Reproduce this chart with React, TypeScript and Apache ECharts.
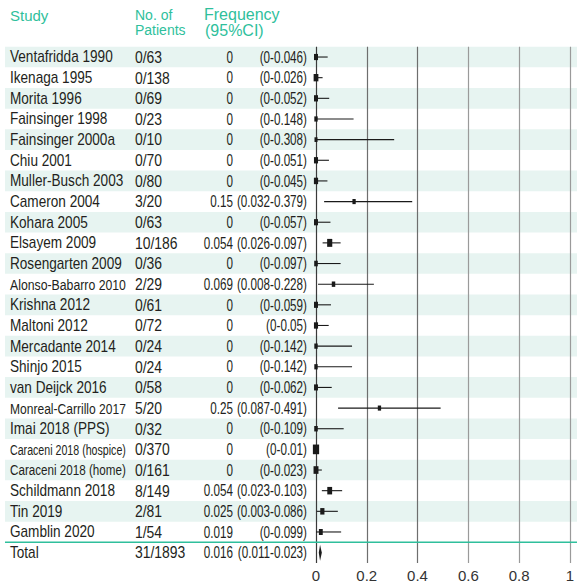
import { useEffect, useRef } from 'react';
import * as echarts from 'echarts';

const studies = [
  'Ventafridda 1990', 'Ikenaga 1995', 'Morita 1996', 'Fainsinger 1998', 'Fainsinger 2000a',
  'Chiu 2001', 'Muller-Busch 2003', 'Cameron 2004', 'Kohara 2005', 'Elsayem 2009',
  'Rosengarten 2009', 'Alonso-Babarro 2010', 'Krishna 2012', 'Maltoni 2012', 'Mercadante 2014',
  'Shinjo 2015', 'van Deijck 2016', 'Monreal-Carrillo 2017', 'Imai 2018 (PPS)',
  'Caraceni 2018 (hospice)', 'Caraceni 2018 (home)', 'Schildmann 2018', 'Tin 2019', 'Gamblin 2020',
];
const events = [0, 0, 0, 0, 0, 0, 0, 3, 0, 10, 0, 2, 0, 0, 0, 0, 0, 5, 0, 0, 0, 8, 2, 1];
const totals = [63, 138, 69, 23, 10, 70, 80, 20, 63, 186, 36, 29, 61, 72, 24, 24, 58, 20, 32, 370, 161, 149, 81, 54];
const freq = [0, 0, 0, 0, 0, 0, 0, 0.15, 0, 0.054, 0, 0.069, 0, 0, 0, 0, 0, 0.25, 0, 0, 0, 0.054, 0.025, 0.019];
const ciLow = [0, 0, 0, 0, 0, 0, 0, 0.032, 0, 0.026, 0, 0.008, 0, 0, 0, 0, 0, 0.087, 0, 0, 0, 0.023, 0.003, 0];
const ciHigh = [0.046, 0.026, 0.052, 0.148, 0.308, 0.051, 0.045, 0.379, 0.057, 0.097, 0.097, 0.228, 0.059, 0.05, 0.142, 0.142, 0.062, 0.491, 0.109, 0.01, 0.023, 0.103, 0.086, 0.099];

const totalLabel = 'Total';
const totalEvents = 31;
const totalN = 1893;
const totalFreq = 0.016;
const totalLow = 0.011;
const totalHigh = 0.023;

const xTicks = [0, 0.2, 0.4, 0.6, 0.8, 1];
const compactStudies = ['Alonso-Babarro 2010', 'Monreal-Carrillo 2017', 'Caraceni 2018 (hospice)', 'Caraceni 2018 (home)'];

const TEAL = '#2fbf9c';
const STRIPE = '#e7f4f1';
const INK = '#231f20';
const SANS = '"Liberation Sans", Arial, sans-serif';

const nRows = studies.length + 1;
const fmt = (v: number) => String(v);

let measureCtx: CanvasRenderingContext2D | null = null;
const measure = (text: string, size: number) => {
  if (!measureCtx) measureCtx = document.createElement('canvas').getContext('2d');
  if (!measureCtx) return text.length * size * 0.5;
  measureCtx.font = `${size}px ${SANS}`;
  return measureCtx.measureText(text).width;
};

export default function App() {
  const ref = useRef<HTMLDivElement>(null);
  useEffect(() => {
    if (!ref.current) return;
    const chart = echarts.init(ref.current, undefined, { renderer: 'svg' });

    const rowData = Array.from({ length: nRows }, (_, i) => [0, i]);

    const stripeRender = (params: any, api: any) => {
      const i = api.value(1);
      if (i % 2 !== 0 || i >= studies.length) return { type: 'group', children: [] };
      const top = api.coord([0, i])[1];
      const bot = api.coord([0, i + 1])[1];
      return {
        type: 'rect',
        shape: { x: 5, y: top, width: 572, height: bot - top },
        style: { fill: STRIPE },
      };
    };

    const txt = (x: number, y: number, text: string, align: string, size: number, sx: number) => ({
      type: 'text',
      x,
      y,
      scaleX: sx,
      style: { text, align, verticalAlign: 'middle', fill: INK, fontFamily: SANS, fontSize: size },
    });

    const textRender = (params: any, api: any) => {
      const i = api.value(1);
      const cy = api.coord([0, i + 0.5])[1];
      const isTotal = i >= studies.length;
      const name = isTotal ? totalLabel : studies[i];
      const pat = isTotal ? `${totalEvents}/${totalN}` : `${events[i]}/${totals[i]}`;
      const f = isTotal ? totalFreq : freq[i];
      const lo = isTotal ? totalLow : ciLow[i];
      const hi = isTotal ? totalHigh : ciHigh[i];
      const compact = compactStudies.includes(name);
      const nameSize = compact ? 15.5 : 16;
      const nameScale = compact ? Math.min(0.8, 116 / measure(name, nameSize)) : 0.85;
      return {
        type: 'group',
        children: [
          txt(10, cy, name, 'left', nameSize, nameScale),
          txt(135, cy, pat, 'left', 16, 0.87),
          txt(233, cy, fmt(f), 'right', 16, 0.73),
          txt(307, cy, `(${fmt(lo)}-${fmt(hi)})`, 'right', 16, 0.73),
        ],
      };
    };

    const forestRender = (params: any, api: any) => {
      const i = api.value(1);
      const yc = i + 0.5;
      const cy = api.coord([0, yc])[1];
      if (i >= studies.length) {
        const top = api.coord([0, i])[1];
        const pl = api.coord([totalLow, yc]);
        const pc = api.coord([totalFreq, yc]);
        const ph = api.coord([totalHigh, yc]);
        return {
          type: 'group',
          children: [
            { type: 'line', shape: { x1: 5, y1: top, x2: 577, y2: top }, style: { stroke: TEAL, lineWidth: 1.5 } },
            {
              type: 'polygon',
              shape: { points: [[pl[0], cy], [pc[0], cy - 8], [ph[0], cy], [pc[0], cy + 8]] },
              style: { fill: '#1a1a1a' },
            },
          ],
        };
      }
      const p1 = api.coord([ciLow[i], yc]);
      const p2 = api.coord([ciHigh[i], yc]);
      const pc = api.coord([freq[i], yc]);
      const w = 2.4 + Math.sqrt(totals[i]) * 0.2;
      const h = w * 1.55;
      return {
        type: 'group',
        children: [
          { type: 'line', shape: { x1: p1[0], y1: cy, x2: p2[0], y2: cy }, style: { stroke: '#1a1a1a', lineWidth: 1.1 } },
          { type: 'rect', shape: { x: pc[0] - w / 2, y: cy - h / 2, width: w, height: h }, style: { fill: '#1a1a1a' } },
        ],
      };
    };

    chart.setOption({
      animation: false,
      grid: { left: 316, right: 1, top: 46.7, height: 20.65 * nRows },
      xAxis: {
        type: 'value',
        min: 0,
        max: 1,
        interval: 0.2,
        axisLine: { show: false },
        axisTick: { show: false },
        axisLabel: {
          color: '#333',
          fontSize: 15,
          fontFamily: SANS,
          margin: 5,
          formatter: (v: number) => (xTicks.includes(v) ? String(v) : ''),
        },
        splitLine: {
          show: true,
          lineStyle: { color: ['#3a3a3a', '#6e6e6e', '#6e6e6e', '#9a9a9a', '#9a9a9a', '#9a9a9a'], width: 1.2 },
        },
      },
      yAxis: {
        type: 'value',
        min: 0,
        max: nRows,
        inverse: true,
        show: false,
      },
      graphic: [
        { type: 'text', left: 10, top: 8, style: { text: 'Study', fill: TEAL, font: `15px ${SANS}` } },
        { type: 'text', left: 135, top: 8, style: { text: 'No. of', fill: TEAL, font: `14px ${SANS}` } },
        { type: 'text', left: 135, top: 23, style: { text: 'Patients', fill: TEAL, font: `14px ${SANS}` } },
        { type: 'text', left: 204, top: 6, style: { text: 'Frequency', fill: TEAL, font: `16px ${SANS}` } },
        { type: 'text', left: 205, top: 22, style: { text: '(95%CI)', fill: TEAL, font: `16px ${SANS}` } },
      ],
      series: [
        { type: 'custom', renderItem: stripeRender, data: rowData, clip: false, z: -1, silent: true },
        { type: 'custom', renderItem: textRender, data: rowData, clip: false, z: 3, silent: true },
        { type: 'custom', renderItem: forestRender, data: rowData, clip: false, z: 4, silent: true },
      ],
    });
    return () => chart.dispose();
  }, []);
  return <div ref={ref} style={{ position: 'fixed', left: 0, top: 0, width: 577, height: 584, background: '#fff' }} />;
}
